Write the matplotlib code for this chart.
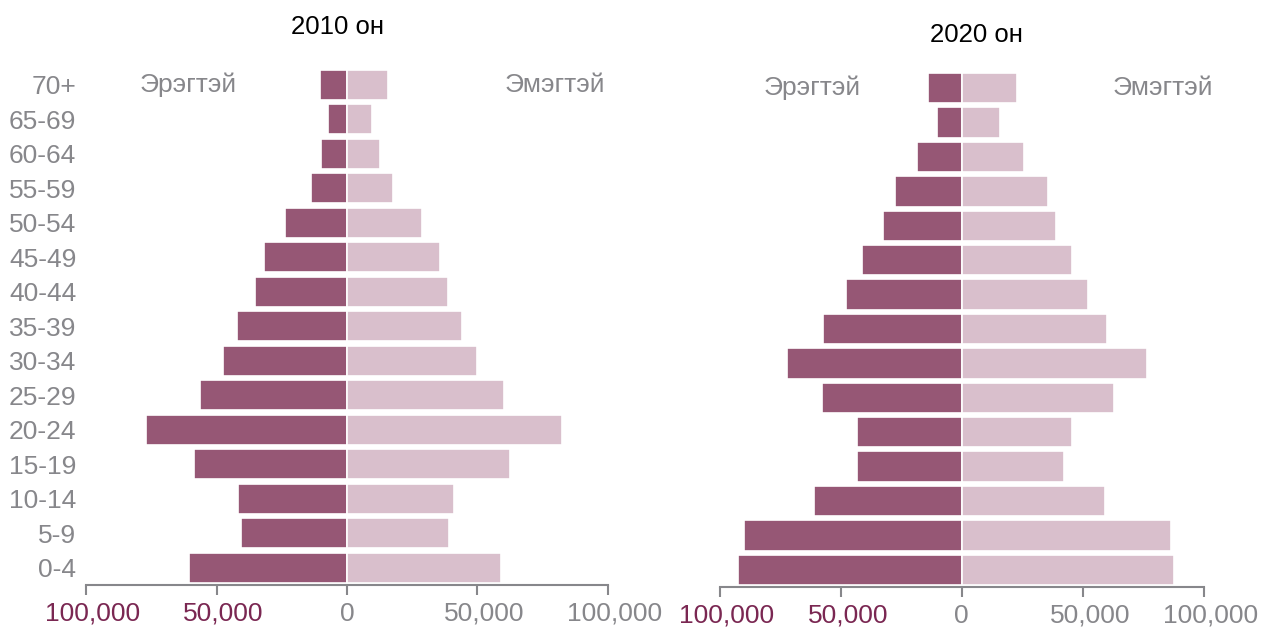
import numpy as np
import matplotlib.pyplot as plt
import matplotlib.transforms as mtransforms
from matplotlib.ticker import FuncFormatter

plt.rcParams["font.family"] = ["Liberation Sans", "DejaVu Sans"]

# ----------------------------------------------------------------------
# Data (population by age group)
# ----------------------------------------------------------------------
age_groups = ["0-4", "5-9", "10-14", "15-19", "20-24", "25-29", "30-34",
              "35-39", "40-44", "45-49", "50-54", "55-59", "60-64",
              "65-69", "70+"]

male_2010 = [60500, 40800, 41700, 58600, 77000, 56300, 47700,
             42200, 35200, 31700, 23700, 13700, 9800, 7200, 10300]
female_2010 = [59100, 39200, 40900, 62400, 82500, 60000, 50000,
               44200, 38800, 35800, 28600, 17500, 12800, 9400, 15600]

male_2020 = [92400, 90000, 61000, 43300, 43300, 57700, 72400,
             57200, 47900, 41100, 32400, 27600, 18300, 10200, 14000]
female_2020 = [87800, 86300, 59000, 42100, 45700, 62700, 76500,
               60200, 52100, 45600, 38800, 35700, 25800, 15600, 23000]

years = ["2010 он", "2020 он"]
male_label = "Эрэгтэй"
female_label = "Эмэгтэй"
x_ticks = [-100000, -50000, 0, 50000, 100000]

MALE_COLOR = "#965775"
FEMALE_COLOR = "#d9bfcc"
GRAY = "#87878b"
NEG_TICK_COLOR = "#7a2752"


def draw_pyramid(fig, ax, male, female, title, show_ages, male_x, female_x,
                 title_pos):
    y = np.arange(len(age_groups))
    ax.barh(y, -np.asarray(male), height=0.88, color=MALE_COLOR,
            edgecolor="white", linewidth=1.2)
    ax.barh(y, female, height=0.88, color=FEMALE_COLOR,
            edgecolor="white", linewidth=1.2)

    ax.set_xlim(-100000, 100000)
    ax.set_ylim(-0.5, len(age_groups) - 0.5)
    ax.set_xticks(x_ticks)
    ax.xaxis.set_major_formatter(FuncFormatter(lambda v, p: f"{abs(v):,.0f}"))
    ax.tick_params(axis="x", length=7, width=1.5, color=GRAY,
                   labelsize=19, labelcolor=GRAY, pad=5)
    # labels sit a little to the right of their ticks (except 0)
    shift = mtransforms.ScaledTranslation(7 / 100, 0, fig.dpi_scale_trans)
    for lbl, v in zip(ax.get_xticklabels(), x_ticks):
        if v < 0:
            lbl.set_color(NEG_TICK_COLOR)
        if v != 0:
            lbl.set_transform(lbl.get_transform() + shift)

    if show_ages:
        ax.set_yticks(y)
        ax.set_yticklabels(age_groups)
        ax.tick_params(axis="y", length=0, labelsize=19, labelcolor=GRAY,
                       pad=7)
    else:
        ax.set_yticks([])

    for side in ["top", "right", "left"]:
        ax.spines[side].set_visible(False)
    ax.spines["bottom"].set_color(GRAY)
    ax.spines["bottom"].set_linewidth(1.5)

    top = len(age_groups) - 1
    ax.text(male_x, top, male_label, ha="center", va="center",
            fontsize=19, color=GRAY)
    ax.text(female_x, top, female_label, ha="center", va="center",
            fontsize=19, color=GRAY)
    ax.text(title_pos[0], title_pos[1], title, transform=ax.transAxes,
            ha="center", va="baseline", fontsize=18.5, color="black")


fig = plt.figure(figsize=(12.65, 6.3), dpi=100)
ax1 = fig.add_axes([0.068, 0.0714, 0.4126, 0.8214])
ax2 = fig.add_axes([0.569, 0.0683, 0.3826, 0.819])

draw_pyramid(fig, ax1, male_2010, female_2010, years[0], True,
             -61000, 79500, (0.482, 1.065))
draw_pyramid(fig, ax2, male_2020, female_2020, years[1], False,
             -62000, 83000, (0.531, 1.056))

fig.savefig("out.png", dpi=100)
plt.close(fig)
